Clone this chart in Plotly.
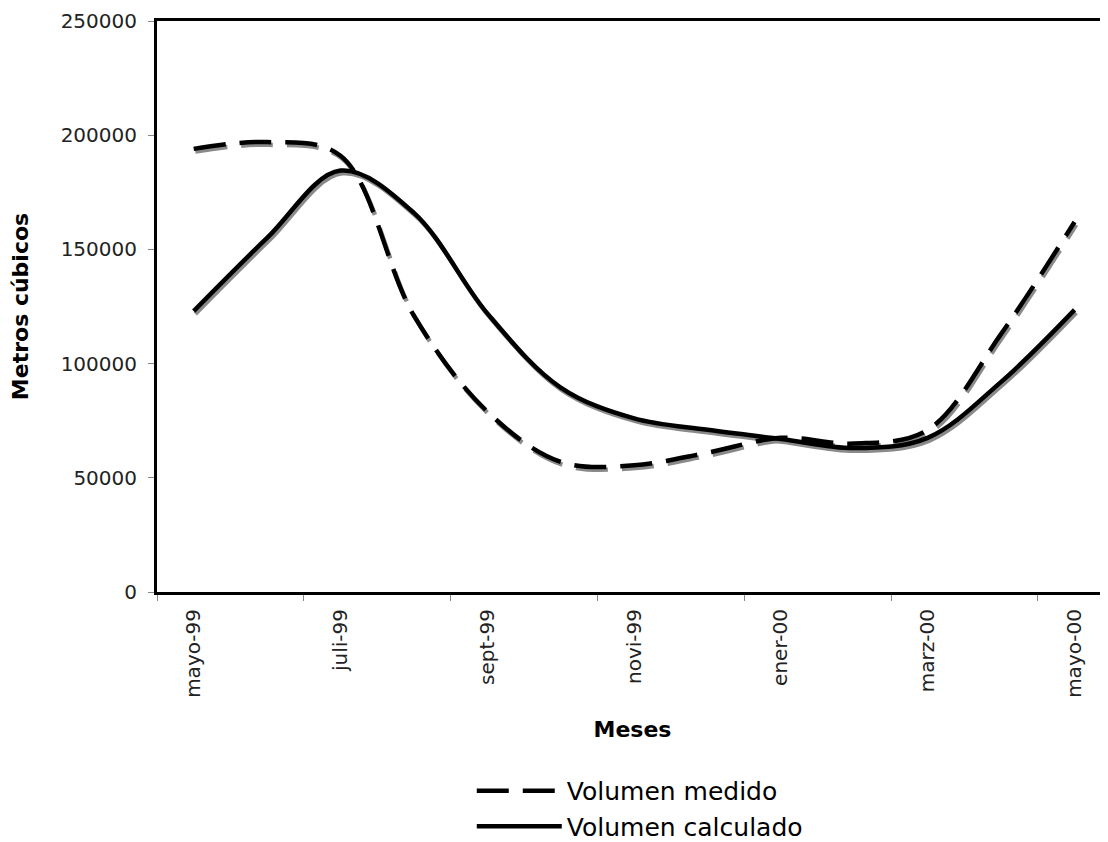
import plotly.graph_objects as go

# ---- data ----
months = ["mayo-99", "juni-99", "juli-99", "agos-99", "sept-99", "octu-99", "novi-99",
          "dici-99", "ener-00", "febr-00", "marz-00", "abri-00", "mayo-00"]
volumen_medido = [194000, 197000, 191000, 121000, 79000, 57000, 55500,
                  61000, 67500, 65000, 71000, 113000, 162000]
volumen_calculado = [123000, 155000, 184500, 166000, 122000, 89500, 76000,
                     71000, 67000, 63000, 67500, 92000, 123500]
tick_labels = months[::2]

x_idx = list(range(len(months)))
tick_pos = x_idx[::2]
boundary_pos = [p - 0.5 for p in tick_pos]

FONT = "DejaVu Sans, Verdana, sans-serif"
XR = [-0.5, 12.456]
YR = [0, 250000]
sx = 0.022    # shadow offset in category units
sy = 1200     # shadow offset in value units

fig = go.Figure()

# invisible anchor trace so the base subplot (axes, frame) is drawn
fig.add_trace(go.Scatter(x=x_idx, y=volumen_calculado, mode="lines",
                         line=dict(color="rgba(0,0,0,0)", width=0),
                         showlegend=False, hoverinfo="skip"))

# shadows (drawn on offset overlay axes, below the black lines)
fig.add_trace(go.Scatter(x=x_idx, y=volumen_medido, mode="lines", line_shape="spline",
                         line=dict(color="#8a8a8a", width=4.5, dash="32px,14px"),
                         xaxis="x2", yaxis="y2", showlegend=False, hoverinfo="skip"))
fig.add_trace(go.Scatter(x=x_idx, y=volumen_calculado, mode="lines", line_shape="spline",
                         line=dict(color="#8a8a8a", width=4.5),
                         xaxis="x2", yaxis="y2", showlegend=False, hoverinfo="skip"))

# main lines (on overlay axes with the true ranges, drawn on top)
fig.add_trace(go.Scatter(x=x_idx, y=volumen_medido, mode="lines", line_shape="spline",
                         name="Volumen medido", xaxis="x3", yaxis="y3",
                         line=dict(color="black", width=4.5, dash="32px,14px")))
fig.add_trace(go.Scatter(x=x_idx, y=volumen_calculado, mode="lines", line_shape="spline",
                         name="Volumen calculado", xaxis="x3", yaxis="y3",
                         line=dict(color="black", width=4.5)))

fig.update_layout(
    width=1100, height=834,
    margin=dict(l=149, r=0, t=13, b=250, autoexpand=False),
    paper_bgcolor="white", plot_bgcolor="white",
    font=dict(family=FONT, color="black", size=20),
    xaxis=dict(
        range=XR, tickmode="array", tickvals=tick_pos, ticktext=tick_labels,
        tickangle=-90, ticks="", showline=True, linewidth=3, linecolor="black",
        mirror=True, showgrid=False, zeroline=False, automargin=False,
        tickfont=dict(size=20, color="#222"), ticklabelstandoff=6,
        minor=dict(tickmode="array", tickvals=boundary_pos, ticks="outside",
                   ticklen=6, tickwidth=1, tickcolor="#888", showgrid=False),
        title=dict(text="<b>Meses</b>", font=dict(size=22), standoff=25),
    ),
    yaxis=dict(
        range=YR, tickmode="linear", tick0=0, dtick=50000, tickformat="d",
        ticks="outside", ticklen=6, tickwidth=1, tickcolor="#888",
        showline=True, linewidth=3, linecolor="black", mirror=False,
        showgrid=False, zeroline=False, automargin=False,
        tickfont=dict(size=20, color="#222"), ticklabelstandoff=7,
        ticklabeloverflow="allow",
        title=dict(text="<b>Metros cúbicos</b>", font=dict(size=22), standoff=33),
    ),
    xaxis2=dict(range=[XR[0] - sx, XR[1] - sx], overlaying="x", visible=False),
    yaxis2=dict(range=[YR[0] + sy, YR[1] + sy], overlaying="y", visible=False),
    xaxis3=dict(range=XR, overlaying="x", visible=False),
    yaxis3=dict(range=YR, overlaying="y", visible=False),
    legend=dict(orientation="v", x=0.331, y=-0.3082, xanchor="left", yanchor="top",
                font=dict(size=25), bgcolor="rgba(0,0,0,0)", tracegroupgap=0,
                itemwidth=85),
)

fig.write_html("out.html")
